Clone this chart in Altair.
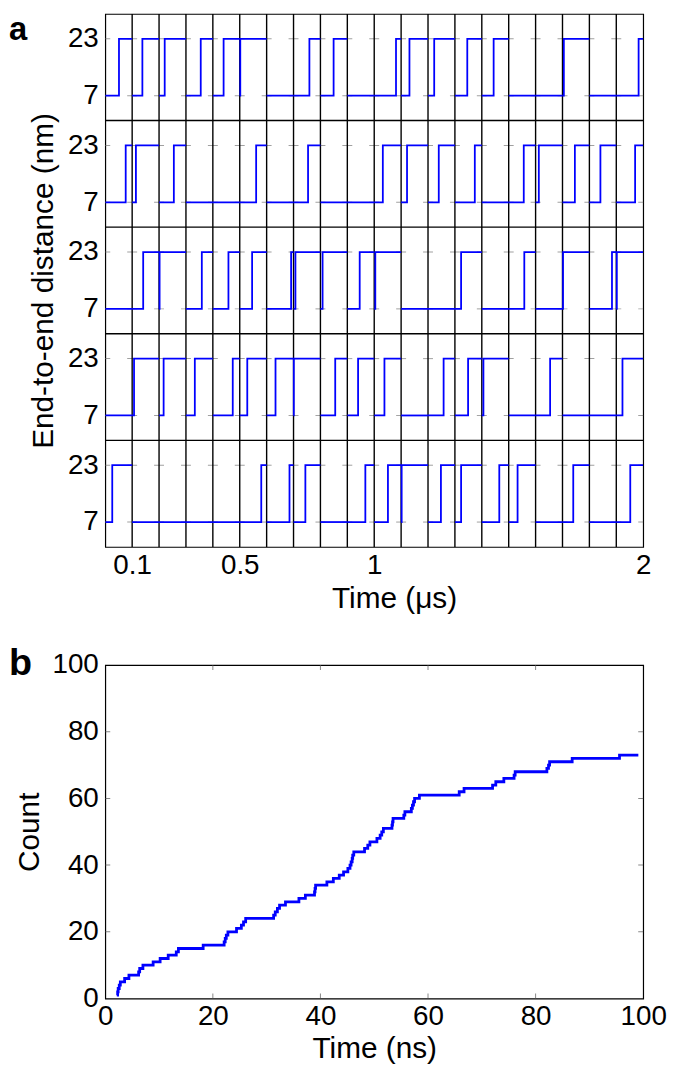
import altair as alt
import pandas as pd

# ---------------- Panel a data ----------------
# transition time (ns) inside each 100-ns trajectory, None = no transition
row1 = [51, 38, 21, 55, 40, 2, None, 59, 49, None, 81, 31, 23, 46, 44, None, None, 5, None, 83]
row2 = [76, 14, 55, None, None, 61, None, 54, None, None, 32, 22, 40, 74, None, 56, 12, 46, 41, 70]
row3 = [None, 41, 2, 59, 58, 46, 91, 7, 8, 46, 4, None, None, 23, None, 58, None, 2, 84, 2]
row4 = [None, 7, 17, 33, 74, 28, 33, 1, 55, 40, 38, None, 58, 49, 6, None, 54, None, None, 23]
row5 = [26, None, None, None, None, 80, 85, 44, None, 67, 51, 2, 48, 23, 65, 33, None, 40, None, 52]
rows = [row1, row2, row3, row4, row5]
low_level = 7
high_level = 23
row_span = 30          # y-range of one row (nm)
traj_len_us = 0.1      # each cell = 100 ns
a_xticks = [0.1, 0.5, 1, 2]
a_ylevels = [7, 23]

# ---------------- Panel b data ----------------
b_times = [2.15, 2.3, 2.4, 2.6, 2.8, 3.6, 4.4, 6.2, 6.4, 7.0, 8.9, 10.2, 11.7, 13.2, 13.6,
           18.2, 22.1, 22.3, 22.5, 22.8, 24.4, 25.3, 25.7, 26.1, 31.3, 31.6, 32.0, 32.4,
           33.5, 36.0, 37.2, 38.9, 39.0, 39.1, 41.2, 42.4, 43.5, 44.3, 45.1, 45.5, 45.7,
           45.9, 46.0, 46.2, 48.2, 48.8, 49.2, 50.5, 51.1, 51.4, 51.7, 53.3, 53.4, 53.5,
           55.5, 55.7, 56.9, 57.1, 57.3, 57.5, 58.4, 65.8, 66.7, 72.0, 72.6, 74.1, 76.0,
           76.2, 82.1, 82.4, 82.6, 86.8, 95.6]
b_counts = list(range(1, len(b_times) + 1))
b_end_time = 99.1
b_xticks = [0, 20, 40, 60, 80, 100]
b_yticks = [0, 20, 40, 60, 80, 100]
b_inner_ticks = [20, 40, 60, 80]

FONT = "Liberation Sans"
BLUE = "#0000ff"
n_rows = len(rows)
n_cols = len(rows[0])

# ---------------- build panel a tables ----------------
trace = []
for r, row in enumerate(rows):
    off = (n_rows - 1 - r) * row_span
    for c, t in enumerate(row):
        x0 = c * traj_len_us
        x1 = (c + 1) * traj_len_us
        if t is None:
            pts = [(x0, low_level), (x1, low_level)]
        else:
            xt = x0 + t / 1000.0
            pts = [(x0, low_level), (xt, low_level), (xt, high_level), (x1, high_level)]
        for i, (x, y) in enumerate(pts):
            trace.append({"cell": f"{r}-{c}", "i": i, "x": x, "y": y + off})
trace_df = pd.DataFrame(trace)

bounds = [c * traj_len_us for c in range(n_cols + 1)]
vlines_df = pd.DataFrame({"x": bounds[1:-1]})
hlines_df = pd.DataFrame({"y": [k * row_span for k in range(1, n_rows)]})
ticks_a = pd.DataFrame([{"x": b, "y": lv + k * row_span}
                        for b in bounds for k in range(n_rows) for lv in a_ylevels])
ytick_vals = sorted(lv + k * row_span for k in range(n_rows) for lv in a_ylevels)

W = 542
HA = 537
HB = 336

xa = alt.X("x:Q", scale=alt.Scale(domain=[0, 2], nice=False, zero=False),
           axis=alt.Axis(values=a_xticks, labelExpr="'' + datum.value", title="Time (μs)",
                         titlePadding=4, titleX=291, titleAnchor="middle", labelPadding=5))
ya = alt.Y("y:Q", scale=alt.Scale(domain=[0, n_rows * row_span], nice=False, zero=False),
           axis=alt.Axis(values=ytick_vals,
                         labelExpr=f"datum.value % {row_span} == {low_level} ? '{low_level}' : '{high_level}'",
                         title="End-to-end distance (nm)", titlePadding=9))

base_a = alt.Chart(trace_df)
trace_layer = base_a.mark_line(color=BLUE, strokeWidth=1.8, clip=True).encode(
    x=xa, y=ya, detail="cell:N", order="i:Q")
vline_layer = alt.Chart(vlines_df).mark_rule(color="#000", strokeWidth=1.4).encode(x="x:Q")
hline_layer = alt.Chart(hlines_df).mark_rule(color="#000", strokeWidth=1.4).encode(y="y:Q")
tick_layer = alt.Chart(ticks_a).mark_tick(orient="horizontal", size=10, thickness=1,
                                          color="#777", clip=True).encode(x="x:Q", y="y:Q")
label_a = alt.Chart(pd.DataFrame({"t": ["a"]})).mark_text(
    font=FONT, fontSize=33, fontWeight="bold", align="left", baseline="top", color="black"
).encode(text="t:N", x=alt.value(-97), y=alt.value(0))

panel_a = alt.layer(tick_layer, vline_layer, hline_layer, trace_layer, label_a).properties(
    width=W, height=HA)

# ---------------- panel b ----------------
b_df = pd.DataFrame({"t": b_times + [b_end_time], "n": b_counts + [b_counts[-1]]})
xb = alt.X("t:Q", scale=alt.Scale(domain=[0, 100], nice=False),
           axis=alt.Axis(values=b_xticks, title="Time (ns)", titlePadding=3, labelPadding=4))
yb = alt.Y("n:Q", scale=alt.Scale(domain=[0, 100], nice=False),
           axis=alt.Axis(values=b_yticks, title="Count", titlePadding=8))
line_b = alt.Chart(b_df).mark_line(color=BLUE, strokeWidth=2.8, interpolate="step-after").encode(
    x=xb, y=yb)

tb = pd.DataFrame(
    [{"t": v, "n": 0} for v in b_inner_ticks] + [{"t": v, "n": 100} for v in b_inner_ticks])
tl = pd.DataFrame(
    [{"t": 0, "n": v} for v in b_inner_ticks] + [{"t": 100, "n": v} for v in b_inner_ticks])
ticks_bx = alt.Chart(tb).mark_tick(orient="vertical", size=10, thickness=1, color="#555",
                                   clip=True).encode(x="t:Q", y="n:Q")
ticks_by = alt.Chart(tl).mark_tick(orient="horizontal", size=10, thickness=1, color="#555",
                                   clip=True).encode(x="t:Q", y="n:Q")
label_b = alt.Chart(pd.DataFrame({"t": ["b"]})).mark_text(
    font=FONT, fontSize=38, fontWeight="bold", align="left", baseline="alphabetic", color="black"
).encode(text="t:N", x=alt.value(-97), y=alt.value(10))

panel_b = alt.layer(ticks_bx, ticks_by, line_b, label_b).properties(width=W, height=HB)

chart = alt.vconcat(panel_a, panel_b, spacing=119, bounds="flush").properties(
    padding=0
).configure_view(stroke="black", strokeWidth=1.2).configure_axis(
    domain=False, ticks=False, grid=False, labelFlush=False,
    labelFont=FONT, labelFontSize=28, labelColor="black", labelPadding=7,
    titleFont=FONT, titleFontSize=30, titleFontWeight="normal", titleColor="black"
)

chart.save("out.html", embed_options={"renderer": "svg", "actions": False})
